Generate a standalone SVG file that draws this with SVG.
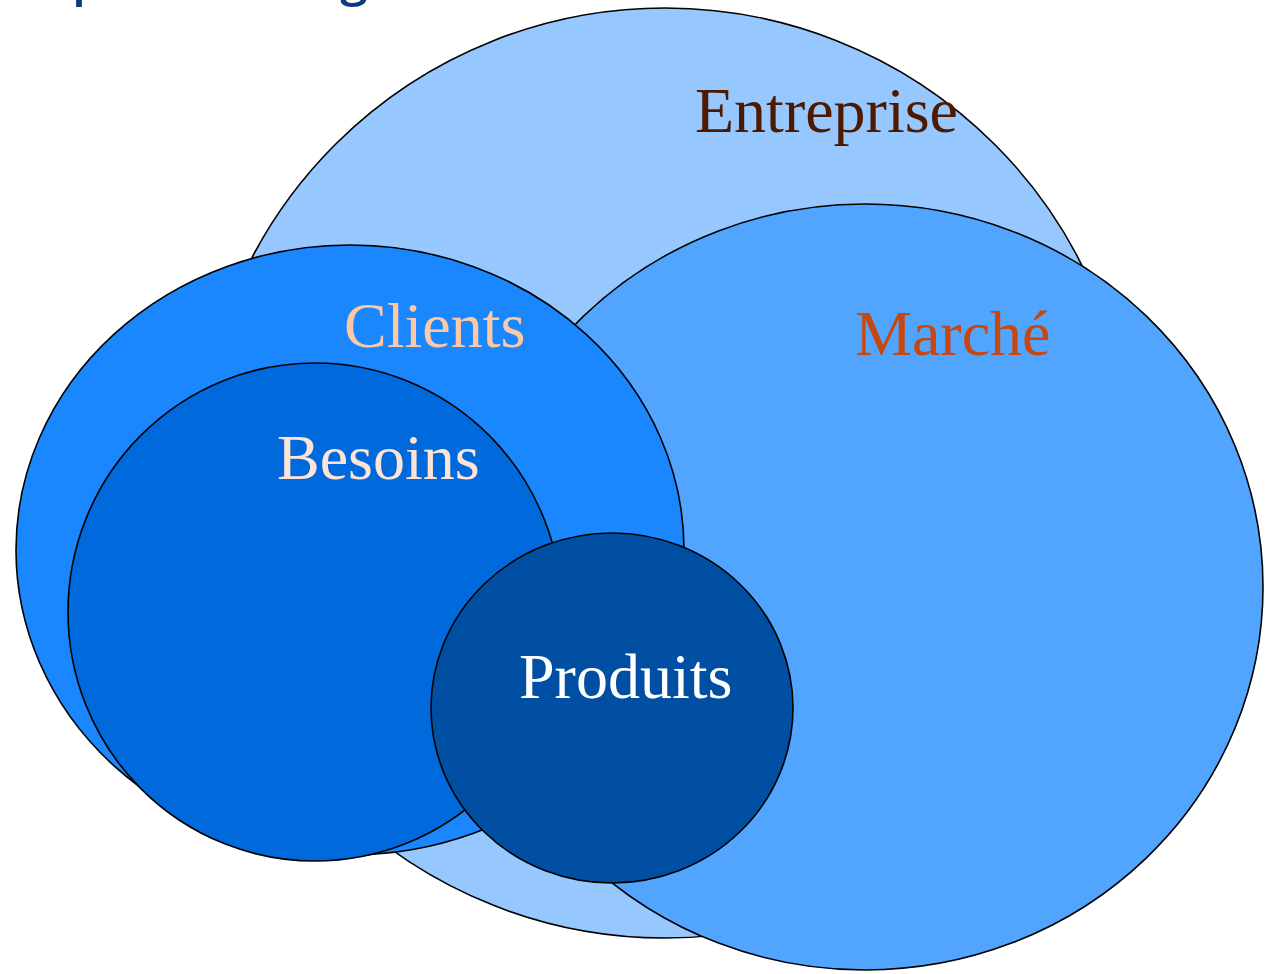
<svg xmlns="http://www.w3.org/2000/svg" width="1274" height="974" viewBox="0 0 1274 974">
  <style>
    .ring { stroke: #000; stroke-width: 1.6; }
    .lbl { font-family: "Liberation Serif", "Times New Roman", serif; font-size: 64px; }
    .title { font-family: "Open Sans", "Liberation Sans", sans-serif; font-size: 50px; font-weight: 600; fill: #0b3a7d; }
  </style>
  <rect width="1274" height="974" fill="#ffffff"/>

  <!-- heading, clipped by the top edge -->
  <g id="heading">
    <text class="title" x="72" y="-5">p</text>
    <text class="title" x="340" y="-5">g</text>
  </g>

  <g id="entreprise">
    <ellipse class="ring" cx="665" cy="473" rx="466" ry="465" fill="#96c8ff"/>
    <text class="lbl" x="695" y="132" fill="#4d1a00">Entreprise</text>
  </g>

  <g id="marche">
    <ellipse class="ring" cx="865" cy="587" rx="398" ry="383" fill="#52a5ff"/>
    <text class="lbl" x="855" y="355" fill="#c8470e">Marché</text>
  </g>

  <g id="clients">
    <ellipse class="ring" cx="350" cy="550" rx="334" ry="305" fill="#1a87ff"/>
    <text class="lbl" x="344" y="347" fill="#ffc8a5">Clients</text>
  </g>

  <g id="besoins">
    <ellipse class="ring" cx="315" cy="612" rx="247" ry="249" fill="#0069db"/>
    <text class="lbl" x="277" y="479" fill="#ffe4d6">Besoins</text>
  </g>

  <g id="produits">
    <ellipse class="ring" cx="612" cy="708" rx="181" ry="175" fill="#004fa3"/>
    <text class="lbl" x="519" y="698" fill="#ffffff">Produits</text>
  </g>

  <g id="connectors"/>
</svg>
